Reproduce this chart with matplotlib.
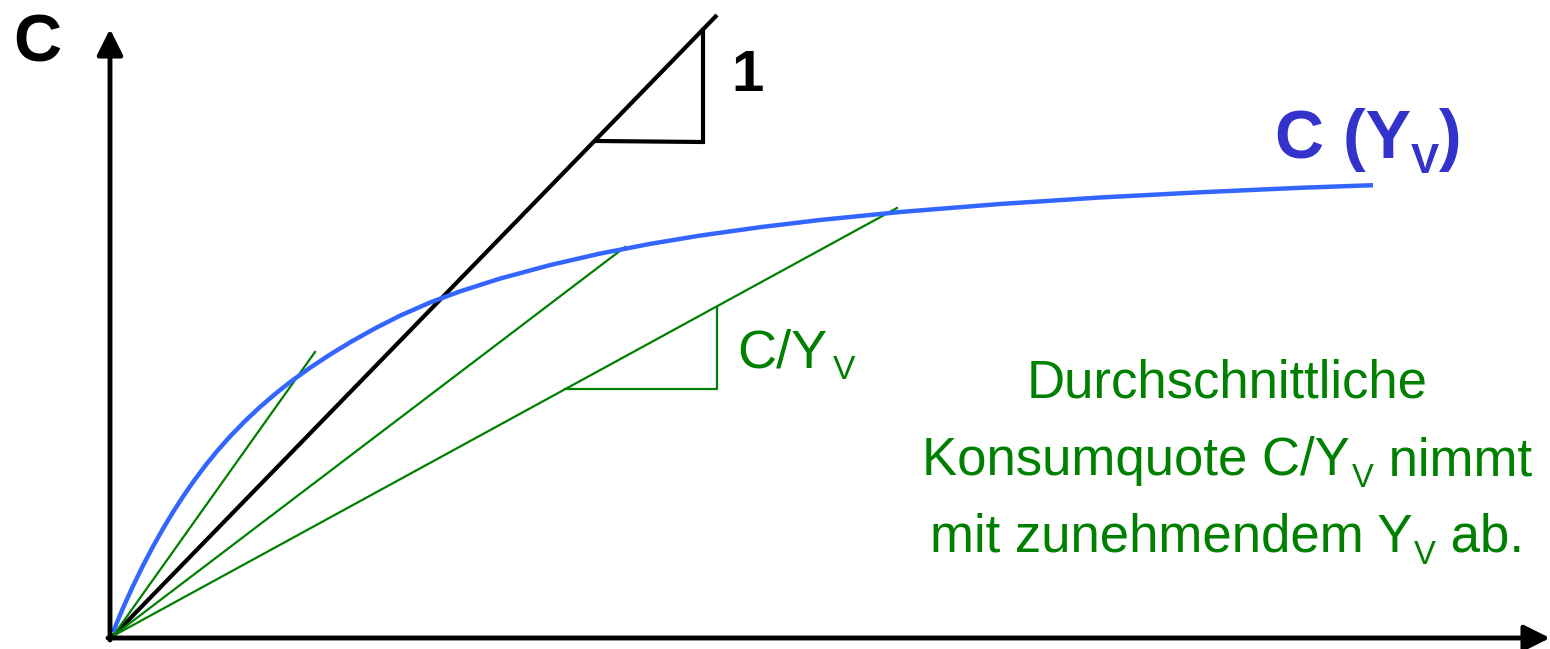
import matplotlib.pyplot as plt
import numpy as np

plt.rcParams['font.family'] = ['Liberation Sans', 'DejaVu Sans']

# Konsumfunktion C(Y_V) (Ursprung = Achsenkreuz)
yv = [0, 10, 20, 30, 40, 50, 60, 70, 80, 92, 104, 117, 132, 147, 162, 177,
      197, 217, 237, 262, 287, 317, 347, 387, 437, 487, 537, 587, 647, 707,
      787, 887, 987, 1087, 1187, 1260]
c = [4, 28, 50, 70.5, 89.5, 107.3, 123.9, 139.4, 153.9, 170, 184.8, 199.5,
     214.9, 229, 241.9, 253.8, 268.2, 281.4, 293.6, 307.6, 320.3, 333.5,
     344.6, 357.4, 370.9, 382.4, 392.1, 400.4, 408.8, 416, 424, 432, 438.5,
     443.7, 448.2, 450.8]

# 45-Grad-Linie
diag_x = [0, 604]
diag_y = [0, 621]
# Steigungsdreieck an der 45-Grad-Linie
tri_x = [484, 590, 590]
tri_y = [495, 494, 606]

# Fahrstrahlen vom Ursprung zu Punkten auf C(Y_V)
ray_x = [202, 512, 784]
ray_y = [284, 389, 428]
# Steigungsdreieck am flachsten Fahrstrahl
gtri_x = [452, 604, 604]
gtri_y = [247, 247, 328]

blue = '#3366FF'
green = '#008000'

fig = plt.figure(figsize=(15.5, 6.49), dpi=100)
ax = fig.add_axes([0, 0, 1, 1])
ax.set_xlim(-113, 1437)
ax.set_ylim(-13, 636)
ax.axis('off')
renderer = fig.canvas.get_renderer()


def sub_text(x, y, parts, size, ha='left', gap=0.0, **kw):
    # parts: (text, tief gestellt?) - eine Dateneinheit = ein Pixel
    items = []
    for s, is_sub in parts:
        fs = size * 0.62 if is_sub else size
        t = ax.text(0, 0, s, fontsize=fs, va='baseline', ha='left', **kw)
        w = t.get_window_extent(renderer).width
        if is_sub:
            w += gap * size
        items.append((t, w, is_sub))
    total = sum(w for _, w, _ in items)
    cx = x - total / 2 if ha == 'center' else x
    for t, w, is_sub in items:
        dy = -0.22 * size * 100 / 72 if is_sub else 0
        t.set_position((cx + (gap * size if is_sub else 0), y + dy))
        cx += w


# Achsen mit Pfeilen
arrow = dict(arrowstyle='-|>,head_length=0.6,head_width=0.3', lw=3.5,
             color='black', mutation_scale=26, shrinkA=0, shrinkB=0)
ax.annotate('', xy=(-3, 607), xytext=(-3, -4), arrowprops=arrow)
ax.annotate('', xy=(1437, -2), xytext=(-5, -2), arrowprops=arrow)

ax.plot(diag_x, diag_y, color='black', lw=3, solid_capstyle='butt')
ax.plot(tri_x, tri_y, color='black', lw=3, solid_joinstyle='miter')

for x, y in zip(ray_x, ray_y):
    ax.plot([0, x], [0, y], color=green, lw=1.6)
ax.plot(gtri_x, gtri_y, color=green, lw=1.6)

ax.plot(yv, c, color=blue, lw=3.2, solid_capstyle='butt',
        solid_joinstyle='round')

ax.text(-76, 591, 'C', fontsize=48, fontweight='bold', ha='center', va='center')
ax.text(635, 560, '1', fontsize=42, fontweight='bold', ha='center', va='center')
sub_text(1162, 478, [('C (Y', False), ('V', True), (')', False)], 49,
         fontweight='bold', color='#3333CC')
sub_text(624, 269, [('C/Y', False), ('V', True)], 39, gap=0.15, color=green)

lines = [
    [('Durchschnittliche', False)],
    [('Konsumquote C/Y', False), ('V', True), (' nimmt', False)],
    [('mit zunehmendem Y', False), ('V', True), (' ab.', False)],
]
for i, parts in enumerate(lines):
    sub_text(1114, 238 - i * 77, parts, 38, ha='center', gap=0.04, color=green)

fig.savefig('out.png', dpi=100)
